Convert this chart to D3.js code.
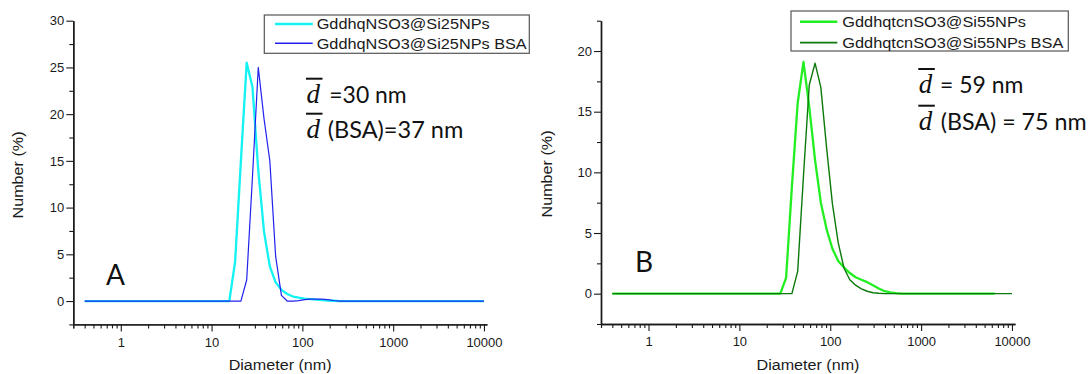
<!DOCTYPE html>
<html><head><meta charset="utf-8">
<script src="https://cdn.jsdelivr.net/npm/d3@7/dist/d3.min.js"></script>
<style>
html,body{margin:0;padding:0;background:#fff;}
svg{display:block;}
</style></head>
<body>
<svg id="chart" width="1090" height="374"></svg>
<script>
// ---------- DATA ----------
const diameters = [0.4,0.4632,0.5365,0.6213,0.7195,0.8332,0.9649,1.117,1.294,1.499,
 1.736,2.01,2.328,2.696,3.122,3.615,4.187,4.849,5.615,6.503,
 7.531,8.721,10.1,11.7,13.54,15.69,18.17,21.04,24.36,28.21,
 32.67,37.84,43.82,50.75,58.77,68.06,78.82,91.28,105.7,122.4,
 141.8,164.2,190.1,220.2,255,295.3,342,396.1,458.7,531.2,
 615.1,712.4,825,955.4,1106,1281,1484,1718,1990,2305,
 2669,3091,3580,4145,4801,5560,6439,7456,8635,10000];

const seriesA1 = [0,0,0,0,0,0,0,0,0,0, 0,0,0,0,0,0,0,0,0,0,
 0,0,0,0,0,0,4.2,15,25.5,22.9, 14,7.4,3.7,2.0,1.2,0.75,0.48,0.36,0.26,0.2,
 0.15,0.1,0.06,0.03,0,0,0,0,0,0, 0,0,0,0,0,0,0,0,0,0, 0,0,0,0,0,0,0,0,0,0];
const seriesA2 = [0,0,0,0,0,0,0,0,0,0, 0,0,0,0,0,0,0,0,0,0,
 0,0,0,0,0,0,0,0,2.25,13.3, 25.0,19.5,15.0,4.8,0.6,0,0,0.05,0.15,0.2,
 0.2,0.2,0.15,0.06,0,0,0,0,0,0, 0,0,0,0,0,0,0,0,0,0, 0,0,0,0,0,0,0,0,0,0];
const seriesB1 = [0,0,0,0,0,0,0,0,0,0, 0,0,0,0,0,0,0,0,0,0,
 0,0,0,0,0,0,0,0,0,0, 1.3,8.8,15.7,19.1,15.4,11.0,7.5,5.3,3.7,2.7,
 2.15,1.7,1.35,1.15,0.95,0.7,0.42,0.2,0.1,0.04, 0,0,0,0,0,0,0,0,0,0, 0,0,0,0,0,0,0];
const seriesB2 = [0,0,0,0,0,0,0,0,0,0, 0,0,0,0,0,0,0,0,0,0,
 0,0,0,0,0,0,0,0,0,0, 0,0,1.84,9.7,17.2,19.0,17.0,12.0,7.4,4.2,
 2.1,1.15,0.7,0.4,0.2,0.08,0.03,0,0,0, 0,0,0,0,0,0,0,0,0,0, 0,0,0,0,0,0,0,0,0,0];

const namesA = ["GddhqNSO3@Si25NPs","GddhqNSO3@Si25NPs BSA"];
const namesB = ["GddhqtcnSO3@Si55NPs","GddhqtcnSO3@Si55NPs BSA"];
const xTickValues = [1,10,100,1000,10000];
const yTicksA = [0,5,10,15,20,25,30];
const yTicksB = [0,5,10,15,20];
const annA = ["=30 nm","(BSA)=37 nm"];
const annB = ["= 59 nm","(BSA) = 75 nm"];
const xTitle = "Diameter (nm)";
const yTitle = "Number (%)";

// ---------- DRAW ----------
const SANS = "'Liberation Sans', Arial, sans-serif";
const svg = d3.select("#chart");

function minorX(){
  const m=[0.3];
  for(let e=-1;e<4;e++){for(let k=2;k<=9;k++){const v=k*Math.pow(10,e); if(v>=0.3 && v<=10000) m.push(+v.toPrecision(3));}}
  return m.filter(v=>xTickValues.indexOf(v)<0);
}

function panel(cfg){
  const g = svg.append("g");
  const x = d3.scaleLog().domain([0.3,10800]).range([cfg.x0,cfg.x1]);
  const y = d3.scaleLinear().domain(cfg.ydom).range([cfg.yb,cfg.yt]);

  const line = d3.line().x((d,i)=>x(diameters[i])).y(d=>y(d));
  cfg.series.forEach(s=>{
    g.append("path").datum(s.values).attr("d",line)
      .attr("fill","none").attr("stroke",s.color).attr("stroke-width",s.w)
      .attr("stroke-linejoin","round");
  });

  const ax = g.append("g").attr("transform",`translate(0,${cfg.yb})`)
    .call(d3.axisBottom(x).tickValues(xTickValues).tickFormat(d3.format("d")).tickSize(7).tickSizeOuter(0));
  const axm = g.append("g").attr("transform",`translate(0,${cfg.yb})`)
    .call(d3.axisBottom(x).tickValues(minorX()).tickFormat("").tickSize(4).tickSizeOuter(0));
  const ay = g.append("g").attr("transform",`translate(${cfg.x0},0)`)
    .call(d3.axisLeft(y).tickValues(cfg.yticks).tickSize(7).tickSizeOuter(0));
  const minorY=[]; for(let v=cfg.ydom[0]; v<=cfg.ydom[1]+1e-9; v+=2.5){ if(cfg.yticks.indexOf(v)<0) minorY.push(v);}
  const aym = g.append("g").attr("transform",`translate(${cfg.x0},0)`)
    .call(d3.axisLeft(y).tickValues(minorY).tickFormat("").tickSize(4).tickSizeOuter(0));
  [ax,axm,ay,aym].forEach(a=>{
    a.select(".domain").attr("stroke","#1a1a1a").attr("stroke-width",1.4);
    a.selectAll(".tick line").attr("stroke","#1a1a1a").attr("stroke-width",1.1);
    a.selectAll("text").style("font-family",SANS)
      .style("font-size","13px").attr("fill","#1a1a1a");
  });
  ax.selectAll("text").attr("y",13).attr("dy","0.71em");
  ay.selectAll("text").attr("x",-9);

  g.append("text").attr("x",(cfg.x0+cfg.x1)/2).attr("y",370).attr("text-anchor","middle")
    .style("font-family",SANS).style("font-size","15.5px").attr("fill","#1a1a1a")
    .attr("textLength",103).attr("lengthAdjust","spacingAndGlyphs").text(xTitle);
  g.append("text").attr("transform",`translate(${cfg.ytx},${cfg.yty}) rotate(-90)`)
    .attr("text-anchor","middle").attr("dy","0.35em")
    .style("font-family",SANS).style("font-size","15.5px").attr("fill","#1a1a1a")
    .attr("textLength",87).attr("lengthAdjust","spacingAndGlyphs").text(yTitle);

  const L = cfg.leg;
  g.append("rect").attr("x",L.x).attr("y",L.y).attr("width",L.w).attr("height",L.h)
    .attr("fill","#fff").attr("stroke","#555").attr("stroke-width",1.2);
  cfg.series.forEach((s,i)=>{
    const yy = L.rows[i];
    g.append("line").attr("x1",L.lx0).attr("x2",L.lx1).attr("y1",yy).attr("y2",yy)
      .attr("stroke",s.color).attr("stroke-width",s.w+0.3);
    g.append("text").attr("x",L.tx).attr("y",yy).attr("dy","0.36em")
      .style("font-family",SANS).style("font-size","15px").attr("fill","#1a1a1a")
      .attr("textLength",L.tl[i]).attr("lengthAdjust","spacingAndGlyphs").text(s.name);
  });

  const A = cfg.ann;
  A.base.forEach((b,i)=>{
    g.append("text").attr("x",A.dx+0.5).attr("y",b).style("font-family","'Liberation Serif', 'DejaVu Serif', serif")
      .style("font-style","italic").style("font-size","27px").attr("fill","#111").text("d");
    g.append("line").attr("x1",A.dx).attr("x2",A.dx+16.5).attr("y1",b-24.3).attr("y2",b-24.3)
      .attr("stroke","#111").attr("stroke-width",2);
    g.append("text").attr("x",A.tx[i]).attr("y",b).style("font-family","Lato, 'Open Sans', sans-serif")
      .style("font-size","22.5px").attr("fill","#111")
      .attr("textLength",A.tw[i]).attr("lengthAdjust","spacingAndGlyphs").text(A.text[i]);
  });
  g.append("text").attr("x",cfg.lab.x).attr("y",cfg.lab.y).style("font-family","Lato, sans-serif")
    .style("font-size","28px").attr("fill","#111").text(cfg.lab.t);
}

panel({
  x0:73.3, x1:487, yb:324.4, yt:20.7, ydom:[-2.5,30], yticks:yTicksA,
  ytx:18, yty:175,
  series:[{values:seriesA1,color:"#14f2f2",w:2.3,name:namesA[0]},
          {values:seriesA2,color:"#2222ee",w:1.2,name:namesA[1]}],
  leg:{x:264.3,y:15,w:265,h:38.3,rows:[24,43.3],lx0:275,lx1:312.7,tx:316.7,tl:[173,210]},
  ann:{dx:306,base:[103,138],tx:[329.3,327.7],tw:[77.4,135.6],text:annA},
  lab:{x:106,y:285,t:"A"}
});
panel({
  x0:601, x1:1015, yb:324, yt:20.7, ydom:[-2.5,22.5], yticks:yTicksB,
  ytx:546.7, yty:174,
  series:[{values:seriesB1,color:"#22ee22",w:2.3,name:namesB[0]},
          {values:seriesB2,color:"#0b7a0b",w:1.4,name:namesB[1]}],
  leg:{x:791,y:11,w:277.3,h:40,rows:[21.7,42.7],lx0:800,lx1:837.3,tx:842.3,tl:[183.7,221]},
  ann:{dx:918.3,base:[93.3,130],tx:[940,940.7],tw:[83.3,146],text:annB},
  lab:{x:635,y:271.7,t:"B"}
});
</script>
</body></html>
